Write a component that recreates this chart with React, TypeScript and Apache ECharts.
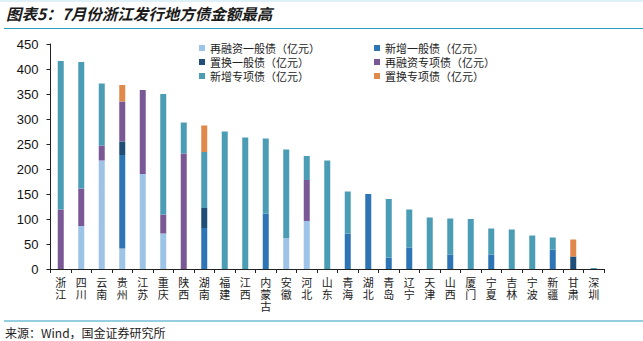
import React, { useEffect, useRef } from "react";
import * as echarts from "echarts";

const categories = ["浙江","四川","云南","贵州","江苏","重庆","陕西","湖南","福建","江西","内蒙古","安徽","河北","山东","青海","湖北","青岛","辽宁","天津","山西","厦门","宁夏","吉林","宁波","新疆","甘肃","深圳"];
const refiGeneral =   [0,86,217,41,190,71,0,0,0,0,0,62,96,0,0,0,0,0,0,0,0,0,0,0,0,0,0];
const newGeneral =    [0,0,0,187,0,0,0,82,0,0,111,0,0,0,71,150,23,43,0,29,0,29,0,0,39,0,0];
const swapGeneral =   [0,0,0,27,0,0,0,40,0,0,0,0,0,0,0,0,0,0,0,0,0,0,0,0,0,25,0];
const refiSpecial =   [119,75,30,80,168,38,231,0,0,0,0,0,82,0,0,0,0,0,0,0,0,0,0,0,0,0,0];
const newSpecial =    [297,253,124,0,0,241,62,112,275,263,150,177,48,217,84,0,117,76,103,72,100,52,79,67,24,0,2];
const swapSpecial =   [0,0,0,33,0,0,0,53,0,0,0,0,0,0,0,0,0,0,0,0,0,0,0,0,0,34,0];
const yTicks = [0, 50, 100, 150, 200, 250, 300, 350, 400, 450];

const seriesDefs = [
  { name: "再融资一般债（亿元）", data: refiGeneral, color: "#9DC3E6" },
  { name: "新增一般债（亿元）", data: newGeneral, color: "#2E75B6" },
  { name: "置换一般债（亿元）", data: swapGeneral, color: "#1F4E79" },
  { name: "再融资专项债（亿元）", data: refiSpecial, color: "#7A5896" },
  { name: "新增专项债（亿元）", data: newSpecial, color: "#4A9DB5" },
  { name: "置换专项债（亿元）", data: swapSpecial, color: "#E0894A" },
];

const CJK = '"Noto Sans CJK SC", "Liberation Sans", sans-serif';

export default function App() {
  const ref = useRef<HTMLDivElement>(null);
  useEffect(() => {
    document.body.style.margin = "0";
    const chart = echarts.init(ref.current!, null, { renderer: "svg" });
    const legendText = { fontSize: 11, color: "#222", fontFamily: CJK, lineHeight: 14 };
    chart.setOption({
      animation: false,
      backgroundColor: "#fff",
      graphic: [
        { type: "line", shape: { x1: 0, y1: 1, x2: 643, y2: 1 }, style: { stroke: "#BFE3F0", lineWidth: 1 } },
        { type: "text", left: 6, top: 5, style: { text: "图表5：7月份浙江发行地方债金额最高", fontSize: 15.5, fontWeight: "bold", fontStyle: "italic", fill: "#1a1a1a", fontFamily: CJK } },
        { type: "line", shape: { x1: 4, y1: 28.5, x2: 643, y2: 28.5 }, style: { stroke: "#2E9DC4", lineWidth: 1.2 } },
        { type: "line", shape: { x1: 4, y1: 321, x2: 643, y2: 321 }, style: { stroke: "#2E9DC4", lineWidth: 1.2 } },
        { type: "text", left: 5, top: 326, style: { text: "来源：Wind，国金证券研究所", fontSize: 12, fill: "#222", fontFamily: CJK } },
      ],
      legend: [
        {
          orient: "vertical", left: 194, top: 36, itemWidth: 6, itemHeight: 6, itemGap: 0, icon: "rect",
          data: [seriesDefs[0].name, seriesDefs[2].name, seriesDefs[4].name],
          textStyle: legendText, selectedMode: false,
        },
        {
          orient: "vertical", left: 369, top: 36, itemWidth: 6, itemHeight: 6, itemGap: 0, icon: "rect",
          data: [seriesDefs[1].name, seriesDefs[3].name, seriesDefs[5].name],
          textStyle: legendText, selectedMode: false,
        },
      ],
      grid: { left: 50.5, right: 39, top: 44, bottom: 72, containLabel: false },
      xAxis: {
        type: "category",
        data: categories,
        axisLine: { lineStyle: { color: "#222", width: 1 } },
        axisTick: { show: true, length: 4, lineStyle: { color: "#222" } },
        axisLabel: {
          interval: 0, margin: 7, fontSize: 11, color: "#222", fontFamily: CJK, lineHeight: 12,
          width: 12, overflow: "break",
        },
      },
      yAxis: {
        type: "value",
        min: yTicks[0], max: yTicks[yTicks.length - 1], interval: 50,
        splitLine: { show: false },
        axisLine: { show: true, lineStyle: { color: "#222", width: 1 } },
        axisTick: { show: true, length: 4, lineStyle: { color: "#222" } },
        axisLabel: { fontSize: 13, color: "#111", fontFamily: '"Liberation Sans", Arial, sans-serif', margin: 12 },
      },
      series: seriesDefs.map((s) => ({
        name: s.name,
        type: "bar",
        stack: "total",
        barWidth: 6,
        data: s.data,
        itemStyle: { color: s.color },
      })),
    });
    return () => chart.dispose();
  }, []);
  return <div ref={ref} style={{ width: 643, height: 341 }} />;
}
